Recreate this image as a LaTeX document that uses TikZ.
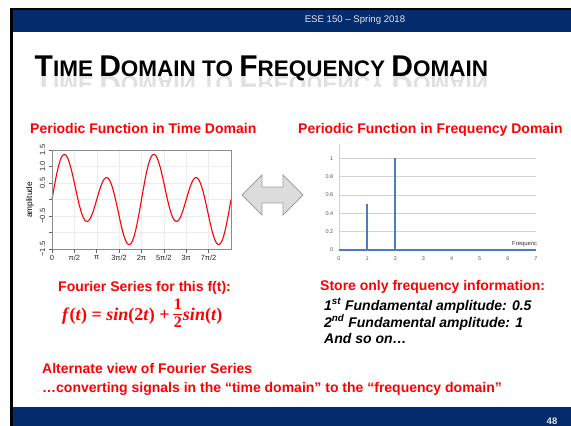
\documentclass[tikz,border=0pt]{standalone}
\usepackage{fontspec}
\setmainfont{Liberation Sans}
\newfontfamily\eqfont{Liberation Serif}
\definecolor{navy}{RGB}{4,44,108}
\definecolor{slred}{RGB}{255,0,0}
\definecolor{hdrtxt}{RGB}{225,228,235}
\definecolor{arrfill}{RGB}{220,220,220}
\definecolor{arrdraw}{RGB}{160,160,160}
\definecolor{xlblue}{RGB}{74,126,187}
\definecolor{xlgrid}{RGB}{210,210,210}
\definecolor{xltxt}{RGB}{89,89,89}
\newcommand\TBig{\fontsize{30}{32}\selectfont}
\newcommand\TSm{\fontsize{22.5}{25}\selectfont}
\tikzset{
  lbl/.style={inner sep=0pt, anchor=base west},
  redhead/.style={lbl, text=slred, font=\bfseries\fontsize{14}{16}\selectfont},
  redtxt/.style={lbl, text=slred, font=\bfseries\fontsize{14}{16}\selectfont},
  blktxt/.style={lbl, text=black, font=\bfseries\itshape\fontsize{14}{16}\selectfont},
  rtick/.style={inner sep=0pt, font=\fontsize{7.5}{8}\selectfont, text=black!85},
  xtick/.style={inner sep=0pt, font=\fontsize{5.5}{6}\selectfont, text=xltxt},
  eqtxt/.style={inner sep=0pt, text=slred, font=\eqfont\bfseries\fontsize{18}{20}\selectfont},
  fractxt/.style={inner sep=0pt, text=slred, font=\eqfont\bfseries\fontsize{16}{18}\selectfont},
}
\begin{document}
\begin{tikzpicture}[x=1pt,y=-1pt]
\useasboundingbox (0,0) rectangle (571,426);
\fill[white] (0,0) rectangle (571,426);
% frame and bars
\fill[black] (10,8) rectangle (571,10);
\fill[black] (10,8) rectangle (12.5,426);
\fill[navy] (12.5,10) rectangle (571,32);
\fill[navy] (12.5,407) rectangle (571,426);
\node[inner sep=0pt, text=hdrtxt, font=\fontsize{9.6}{10}\selectfont] (hdr) at (355,20.5) {ESE 150 -- Spring 2018};
\node[inner sep=0pt, text=hdrtxt, font=\bfseries\fontsize{9.5}{10}\selectfont] (pg) at (552,421) {48};
% title
\node[lbl] (title) at (34.5,76) {\bfseries\TBig T\TSm IME \TBig D\TSm OMAIN TO \TBig F\TSm REQUENCY \TBig D\TSm OMAIN};
\begin{scope}
\clip (20,76) rectangle (500,86);
\node[lbl, yscale=-1, opacity=0.12] (titlerefl) at (34.5,76) {\bfseries\TBig T\TSm IME \TBig D\TSm OMAIN TO \TBig F\TSm REQUENCY \TBig D\TSm OMAIN};
\end{scope}
% headings
\node[redhead] (h1) at (30,133) {Periodic Function in Time Domain};
\node[redhead] (h2) at (298,133) {Periodic Function in Frequency Domain};
% ---- time-domain plot
\foreach \v in {-1,-0.5,0,0.5,1} \draw[black!7] (52,{199.5-33*\v}) -- (231,{199.5-33*\v});
\foreach \k in {1,...,7} \draw[black!7] ({52+22.37*\k},150) -- ({52+22.37*\k},249);
\draw[red, line width=1.1pt] plot[domain=0:12.566, samples=220, smooth] ({52+14.245*\x}, {199.5-33*(sin(2*\x r)+0.5*sin(\x r))});
\draw[black!45, line width=0.6pt] (52,150) rectangle (231,249);
\foreach \v in {-1.5,-1,-0.5,0,0.5,1,1.5} \draw[black!60, line width=0.5pt] (48.5,{199.5-33*\v}) -- (52,{199.5-33*\v});
\foreach \k in {0,...,7} \draw[black!60, line width=0.5pt] ({52+22.37*\k},249) -- ({52+22.37*\k},252.5);
\foreach \v/\lab in {1.5/1.5,1/1.0,0.5/0.5,-0.5/−0.5,-1.5/−1.5}
  \node[rtick, rotate=90] at (42.5,{199.5-33*\v}) {\lab};
\foreach \k/\lab in {0/0,1/{π/2},2/π,3/{3π/2},4/2π,5/{5π/2},6/3π,7/{7π/2}}
  \node[rtick] at ({52+22.37*\k},257.5) {\lab};
\node[inner sep=0pt, rotate=90, font=\fontsize{8.3}{9}\selectfont] (amp) at (30,200) {amplitude};
% ---- double arrow
\draw[arrdraw, fill=arrfill, line width=0.8pt, line join=miter] (242,195) -- (262,175) -- (262,187) -- (283,187) -- (283,175) -- (303,195) -- (283,215) -- (283,203) -- (262,203) -- (262,215) -- cycle;
% ---- frequency-domain plot
\foreach \v in {0.2,0.4,0.6,0.8,1} \draw[xlgrid, line width=0.6pt] (339,{250-91.7*\v}) -- (536,{250-91.7*\v});
\draw[xlgrid, line width=0.7pt] (339,144) -- (339,250);
\draw[xlblue, line width=1.6pt] (339,250) -- (536,250);
\draw[xlblue, line width=1.5pt] (367,250) -- (367,204.2);
\draw[xlblue, line width=1.5pt] (395,250) -- (395,158.3);
\foreach \v/\lab in {0/0,0.2/0.2,0.4/0.4,0.6/0.6,0.8/0.8,1/1}
  \node[xtick, anchor=east] at (333.5,{250-91.7*\v}) {\lab};
\foreach \k in {0,...,7}
  \node[xtick] at ({339+28.14*\k},258.5) {\k};
\node[inner sep=0pt, anchor=base west, font=\fontsize{5.9}{6}\selectfont, text=black!80] (freq) at (512,245) {Frequenc};
% ---- bottom texts
\node[redtxt] (fs) at (58,291) {Fourier Series for this f(t):};
\node[eqtxt, anchor=base west] (fa) at (62,320) {\textit{f}(\textit{t}) = \textit{sin}(2\textit{t}) +};
\node[fractxt, anchor=base] (fnum) at ([xshift=8pt,yshift=11pt]fa.base east) {1};
\node[fractxt, anchor=base] (fden) at ([xshift=8pt,yshift=-7pt]fa.base east) {2};
\draw[slred, line width=0.9pt] ([xshift=3.5pt,yshift=6pt]fa.base east) -- ([xshift=12.5pt,yshift=6pt]fa.base east);
\node[eqtxt, anchor=base west] (fb) at ([xshift=13pt]fa.base east) {\textit{sin}(\textit{t})};
\node[redtxt] (store) at (320,290.5) {Store only frequency information:};
\node[blktxt] (l1) at (324,310) {1\textsuperscript{st} Fundamental amplitude: 0.5};
\node[blktxt] (l2) at (324,327) {2\textsuperscript{nd} Fundamental amplitude: 1};
\node[blktxt] (l3) at (324,343) {And so on…};
\node[redtxt] (alt) at (42,373) {Alternate view of Fourier Series};
\node[redtxt] (conv) at (42,392) {…converting signals in the “time domain” to the “frequency domain”};
\end{tikzpicture}
\end{document}
